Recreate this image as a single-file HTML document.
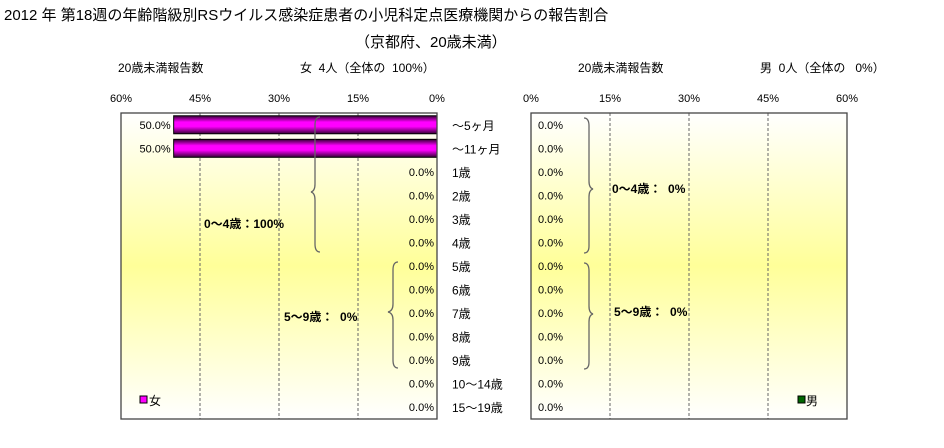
<!DOCTYPE html>
<html><head><meta charset="utf-8"><style>
body{margin:0;background:#fff;}
svg text{font-family:"Liberation Sans","Noto Sans CJK JP",sans-serif;white-space:pre;}
</style></head><body>
<svg width="944" height="443" viewBox="0 0 944 443">
<defs>
<linearGradient id="bg" x1="0" y1="0" x2="0" y2="1">
<stop offset="0" stop-color="#ffffff"/><stop offset="0.5" stop-color="#ffff99"/><stop offset="1" stop-color="#ffffff"/>
</linearGradient>
<linearGradient id="mag" x1="0" y1="0" x2="0" y2="1">
<stop offset="0" stop-color="#330033"/><stop offset="0.35" stop-color="#ff00ff"/><stop offset="0.6" stop-color="#ff00ff"/><stop offset="1" stop-color="#330033"/>
</linearGradient>
</defs>
<text x="4" y="20" font-size="15">2012 年 第18週の年齢階級別RSウイルス感染症患者の小児科定点医療機関からの報告割合</text>
<text x="355" y="47" font-size="15">（京都府、20歳未満）</text>
<text x="118" y="72" font-size="12">20歳未満報告数</text>
<text x="300" y="72" font-size="12">女  4人（全体の  100%）</text>
<text x="578" y="72" font-size="12">20歳未満報告数</text>
<text x="760" y="72" font-size="12">男  0人（全体の   0%）</text>
<g id="left"></g>
<g id="right"></g>
<g fill="none" stroke="#666" stroke-width="1.3">
<path d="M320 117 Q315 117 315 125 L315 184 Q315 191 311 192 Q315 193 315 200 L315 244 Q315 252 320 252"/>
<path d="M398 262 Q393 262 393 270 L393 304 Q393 311 388 312 Q393 313 393 320 L393 360 Q393 368 398 368"/>
<path d="M584 118 Q589 118 589 126 L589 181 Q589 188 593 189 Q589 190 589 197 L589 246 Q589 253 584 253"/>
<path d="M584 263 Q589 263 589 271 L589 306 Q589 313 593 314 Q589 315 589 322 L589 362 Q589 369 584 369"/>
</g>
<text x="204" y="228" font-size="12" font-weight="bold">0～4歳：100%</text>
<text x="284" y="321" font-size="12" font-weight="bold">5～9歳：  0%</text>
<text x="612" y="193" font-size="12" font-weight="bold">0～4歳：  0%</text>
<text x="614" y="316" font-size="12" font-weight="bold">5～9歳：  0%</text>
<rect x="140" y="396" width="7" height="7" fill="#ff00ff" stroke="#000" stroke-width="1"/>
<text x="149" y="405" font-size="12">女</text>
<rect x="798" y="396" width="7" height="7" fill="#006600" stroke="#000" stroke-width="1"/>
<text x="806" y="405" font-size="12">男</text>
</svg>
<script>
const categories=["～5ヶ月","～11ヶ月","1歳","2歳","3歳","4歳","5歳","6歳","7歳","8歳","9歳","10～14歳","15～19歳"];
const femaleValues=[50,50,0,0,0,0,0,0,0,0,0,0,0];
const maleValues=[0,0,0,0,0,0,0,0,0,0,0,0,0];
const tickLabels=["0%","15%","30%","45%","60%"];
const tickValues=[0,15,30,45,60];
const NS="http://www.w3.org/2000/svg";
const plotTop=113,plotBottom=419,rowH=(plotBottom-plotTop)/categories.length;
function mk(tag,attrs,parent){const e=document.createElementNS(NS,tag);for(const k in attrs)e.setAttribute(k,attrs[k]);parent.appendChild(e);return e;}
function panel(gid,x0,x1,dir,vals,isLeft){
  const g=document.getElementById(gid);
  const sx=v=>dir>0? x0+(x1-x0)*v/60 : x1-(x1-x0)*v/60;
  const r=mk('rect',{x:x0,y:plotTop,width:x1-x0,height:plotBottom-plotTop,fill:'url(#bg)',stroke:'none'},g);
  
  
  tickValues.forEach((t,i)=>{
    const x=sx(t);
    if(t>0&&t<60){const l=mk('line',{x1:x,x2:x,y1:plotTop,y2:plotBottom,stroke:'#666','stroke-dasharray':'3,2'},g);
      
      }
    const tx=mk('text',{x:x,y:102,'font-size':11,'text-anchor':'middle'},g);tx.textContent=tickLabels[i];
    
    
  });
  vals.forEach((v,i)=>{
    const cy=plotTop+rowH*(i+0.5);
    if(v>0){const bar=mk('rect',{x:Math.min(sx(v),sx(0)),y:cy-9,width:Math.abs(sx(v)-sx(0)),height:18,fill:'url(#mag)',stroke:'#000','stroke-width':1},g);
      
      }
    const lab=mk('text',{'font-size':11,y:cy+4},g);
    if(isLeft){const bx=v>0?sx(v)-3:sx(0)-3;lab.setAttribute('x',bx);lab.setAttribute('text-anchor','end');}
    else{lab.setAttribute('x',x0+7);}
    lab.textContent=v.toFixed(1)+'%';
    
    
    if(isLeft){const c=mk('text',{x:452,y:cy+5,'font-size':12},g);c.textContent=categories[i];
      
      }
  });
  const b=mk('rect',{x:x0,y:plotTop,width:x1-x0,height:plotBottom-plotTop,fill:'none',stroke:'#444','stroke-width':1.3},g);
  
  
}
panel('left',121,437,-1,femaleValues,true);
panel('right',531,847,1,maleValues,false);
</script>
</body></html>
